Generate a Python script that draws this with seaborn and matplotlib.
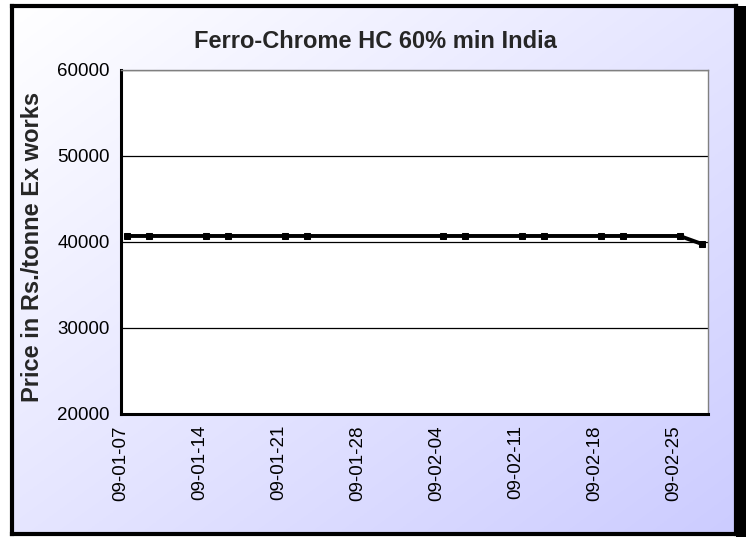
import pandas as pd
import numpy as np
import matplotlib
matplotlib.use("Agg")
import matplotlib.pyplot as plt
import matplotlib.dates as mdates
from matplotlib.patches import Rectangle
import seaborn as sns

# weekly quotes (Wed / Fri)
dates = ["2009-01-07", "2009-01-09", "2009-01-14", "2009-01-16",
         "2009-01-21", "2009-01-23", "2009-02-04", "2009-02-06",
         "2009-02-11", "2009-02-13", "2009-02-18", "2009-02-20",
         "2009-02-25", "2009-02-27"]
prices = [40700, 40700, 40700, 40700, 40700, 40700, 40700, 40700,
          40700, 40700, 40700, 40700, 40700, 39750]
y_ticks = [20000, 30000, 40000, 50000, 60000]

df = pd.DataFrame({"date": pd.to_datetime(dates) + pd.Timedelta(hours=12),
                   "price": prices})

sns.set_style("white")
plt.rcParams['font.family'] = ['Liberation Sans', 'DejaVu Sans']

W, H = 746, 537
fig = plt.figure(figsize=(W / 100, H / 100), dpi=100)
fig.patch.set_facecolor("white")

# drop shadow on the right
fig.patches.append(Rectangle((736 / W, 0), 10 / W, 1 - 6 / H,
                             transform=fig.transFigure, facecolor="black",
                             edgecolor="none", zorder=0))

# gradient chart area
bg = fig.add_axes([12 / W, 3 / H, (736 - 12) / W, (534 - 6) / H], zorder=1)
gx, gy = np.meshgrid(np.linspace(0, 1, 200), np.linspace(0, 1, 200))
t = (gx + gy) / 2
grad = np.dstack([1 - 0.2 * t, 1 - 0.2 * t, np.ones_like(t)])
bg.imshow(grad, aspect="auto", extent=[0, 1, 0, 1], origin="upper")
bg.set_xticks([])
bg.set_yticks([])
for s in bg.spines.values():
    s.set_color("black")
    s.set_linewidth(3)

ax = fig.add_axes([121 / W, (537 - 414) / H, (708 - 121) / W, (414 - 70) / H], zorder=2)
ax.set_facecolor("white")

sns.lineplot(data=df, x="date", y="price", ax=ax, color="black",
             linewidth=2.8, marker="s", markersize=4.5, markeredgecolor="black")

ax.set_ylim(20000, 60000)
ax.set_yticks(y_ticks)
ax.set_xlim(pd.Timestamp("2009-01-07"), pd.Timestamp("2009-02-28"))
ax.set_xticks(pd.date_range("2009-01-07", "2009-02-25", freq="7D"))
ax.xaxis.set_major_formatter(mdates.DateFormatter("%y-%m-%d"))
ax.yaxis.grid(True, color="black", linewidth=0.9)
ax.set_axisbelow(True)
ax.set_xlabel("")
ax.set_ylabel("")

ax.tick_params(axis="both", direction="out", length=5, width=2, color="black",
               labelsize=13.5, labelcolor="black", pad=3)
ax.tick_params(axis="x", labelrotation=90)
for side in ["left", "bottom"]:
    ax.spines[side].set_color("black")
    ax.spines[side].set_linewidth(2.2)
for side in ["top", "right"]:
    ax.spines[side].set_color("#808080")
    ax.spines[side].set_linewidth(1)

fig.text(375 / W, 1 - 41 / H, "Ferro-Chrome HC 60% min India",
         family=["Liberation Sans Narrow", "Liberation Sans"], fontweight="bold",
         fontsize=17, ha="center", va="center", zorder=3)
fig.text(33 / W, 1 - 247 / H, "Price in Rs./tonne Ex works",
         fontweight="bold", fontsize=17, rotation=90,
         ha="center", va="center", zorder=3)

fig.savefig("out.png", dpi=100)
